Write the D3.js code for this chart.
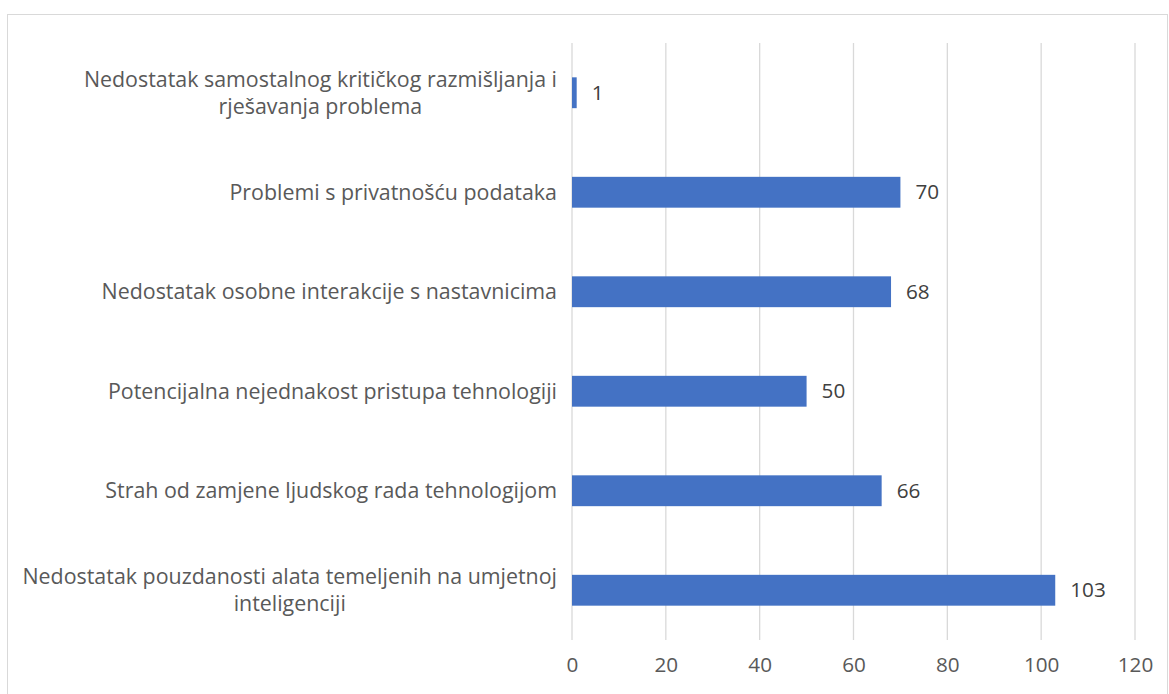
<!DOCTYPE html>
<html>
<head>
<meta charset="utf-8">
<script src="https://cdn.jsdelivr.net/npm/d3@7"></script>
<style>
  body { margin: 0; background: #fff; }
  svg { display: block; }
  text { font-family: "Open Sans", sans-serif; }
</style>
</head>
<body>
<div id="chart"></div>
<script>
// categories, top to bottom (line breaks as in the original)
const categories = [
    "Nedostatak samostalnog kritičkog razmišljanja i\nrješavanja problema",
    "Problemi s privatnošću podataka",
    "Nedostatak osobne interakcije s nastavnicima",
    "Potencijalna nejednakost pristupa tehnologiji",
    "Strah od zamjene ljudskog rada tehnologijom",
    "Nedostatak pouzdanosti alata temeljenih na umjetnoj\ninteligenciji",
]
const values = [1, 70, 68, 50, 66, 103]
const xTicks = [0, 20, 40, 60, 80, 100, 120]

const width = 1169
const height = 694
const labelFont = "21.4px"
const numFont = "20.7px"

const svg = d3.select("#chart")
    .append("svg")
    .attr("width", width)
    .attr("height", height)

// chart area border
svg.append("rect")
    .attr("x", 7.5)
    .attr("y", 14.5)
    .attr("width", 1160)
    .attr("height", 720)
    .attr("fill", "none")
    .attr("stroke", "#d9d9d9")

const x = d3.scaleLinear().domain([0, 120]).range([572, 1135])
const y = d3.scaleBand()
    .domain(categories)
    .range([43, 640])
    .paddingInner(0.69)
    .paddingOuter(0.345)

// gridlines
svg.append("g")
    .selectAll("line")
    .data(xTicks)
    .join("line")
    .attr("x1", (d) => x(d))
    .attr("x2", (d) => x(d))
    .attr("y1", 43)
    .attr("y2", 640)
    .attr("stroke", "#d9d9d9")
    .attr("stroke-width", 1.3)

// x axis labels
const xAxis = svg.append("g")
    .attr("transform", "translate(0,665)")
    .call(d3.axisBottom(x).tickValues(xTicks).tickSize(0).tickPadding(0))
xAxis.select(".domain").remove()
xAxis.selectAll("text")
    .attr("dy", "0.35em")
    .attr("fill", "#595959")
    .style("font-size", numFont)
    .style("font-family", "'Open Sans', sans-serif")

// bars
svg.append("g")
    .selectAll("rect")
    .data(values)
    .join("rect")
    .attr("x", x(0))
    .attr("y", (d, i) => y(categories[i]))
    .attr("width", (d) => x(d) - x(0))
    .attr("height", y.bandwidth())
    .attr("fill", "#4472c4")

// value labels
svg.append("g")
    .selectAll("text")
    .data(values)
    .join("text")
    .attr("x", (d) => x(d) + 15)
    .attr("y", (d, i) => y(categories[i]) + y.bandwidth() / 2)
    .attr("dy", "0.35em")
    .attr("fill", "#404040")
    .style("font-size", numFont)
    .text((d) => d)

// category labels: block right-aligned, lines centered within block
const lineHeight = 27
const labelRight = 557
const labels = svg.append("g")
categories.forEach((cat, i) => {
    const lines = cat.split("\n")
    const cy = y(cat) + y.bandwidth() / 2
    const g = labels.append("g")
    const texts = lines.map((line, j) =>
        g.append("text")
            .attr("y", cy + (j - (lines.length - 1) / 2) * lineHeight)
            .attr("dy", "0.35em")
            .attr("fill", "#595959")
            .attr("text-anchor", "middle")
            .style("font-size", labelFont)
            .text(line)
    )
    const blockW = d3.max(texts, (t) => t.node().getComputedTextLength())
    texts.forEach((t) => t.attr("x", labelRight - blockW / 2))
})
</script>
</body>
</html>
